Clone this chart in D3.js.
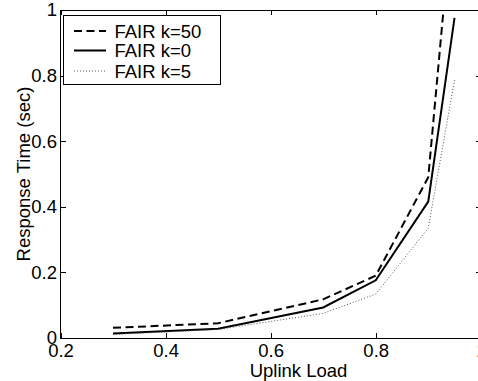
<!DOCTYPE html>
<html>
<head>
<meta charset="utf-8">
<script src="https://cdn.jsdelivr.net/npm/d3@7"></script>
<style>
  html, body { margin: 0; padding: 0; background: #fff; }
  svg { display: block; font-family: "Liberation Sans", Arial, Helvetica, sans-serif; }
</style>
</head>
<body>
<svg id="chart" width="478" height="381"></svg>
<script>
// Uplink load sample points
const loads = [0.3, 0.5, 0.7, 0.8, 0.9, 0.95];
// Mean response time (sec) for each FAIR setting
const fairK50 = [0.031, 0.045, 0.118, 0.19, 0.49, 1.37];
const fairK0  = [0.014, 0.028, 0.093, 0.176, 0.416, 0.976];
const fairK5  = [0.011, 0.026, 0.075, 0.134, 0.335, 0.787];

const seriesNames = ["FAIR k=50", "FAIR k=0", "FAIR k=5"];
const seriesValues = [fairK50, fairK0, fairK5];
const seriesStyles = [
  { stroke: "#000", width: 2, dash: "8 4.5" },
  { stroke: "#000", width: 2, dash: null },
  { stroke: "#555", width: 1, dash: "1 2" }
];

const xTicks = [0.2, 0.4, 0.6, 0.8, 1.0];
const yTicks = [0, 0.2, 0.4, 0.6, 0.8, 1.0];

const svg = d3.select("#chart");
const plotL = 60.5, plotR = 480.8, plotT = 10, plotB = 338;

const x = d3.scaleLinear().domain([0.2, 1.0]).range([plotL, plotR]);
const y = d3.scaleLinear().domain([0, 1.0]).range([plotB, plotT]);
const fmt = d => d3.format("~g")(d);

// clip region for the data lines
svg.append("defs").append("clipPath").attr("id", "plotClip")
  .append("rect").attr("x", plotL).attr("y", plotT)
  .attr("width", plotR - plotL).attr("height", plotB - plotT);

const fontSize = 18.5;

// bottom axis with inward ticks
const gx = svg.append("g").attr("transform", `translate(0,${plotB})`)
  .call(d3.axisBottom(x).tickValues(xTicks).tickFormat(fmt)
    .tickSizeInner(-5).tickSizeOuter(0).tickPadding(5.5));
// top axis ticks only
const gxt = svg.append("g").attr("transform", `translate(0,${plotT})`)
  .call(d3.axisTop(x).tickValues(xTicks).tickFormat("")
    .tickSizeInner(-5).tickSizeOuter(0));
// left axis
const gy = svg.append("g").attr("transform", `translate(${plotL},0)`)
  .call(d3.axisLeft(y).tickValues(yTicks).tickFormat(fmt)
    .tickSizeInner(-5).tickSizeOuter(0).tickPadding(3.5));
// right axis ticks only
const gyr = svg.append("g").attr("transform", `translate(${plotR},0)`)
  .call(d3.axisRight(y).tickValues(yTicks).tickFormat("")
    .tickSizeInner(-5).tickSizeOuter(0));

[gx, gxt, gy, gyr].forEach(g => {
  g.select(".domain").remove();
  g.selectAll(".tick line").attr("stroke", "#000").attr("shape-rendering", "crispEdges");
  g.selectAll(".tick text").attr("fill", "#000")
    .style("font-size", fontSize + "px")
    .style("font-family", "'Liberation Sans', Arial, sans-serif");
  g.attr("font-family", null).attr("font-size", null);
});

// frame
svg.append("rect")
  .attr("x", plotL).attr("y", plotT)
  .attr("width", plotR - plotL).attr("height", plotB - plotT)
  .attr("fill", "none").attr("stroke", "#000").attr("stroke-width", 1)
  .attr("shape-rendering", "crispEdges");

// data lines
const line = d3.line().x((d, i) => x(loads[i])).y(d => y(d));
const linesG = svg.append("g").attr("clip-path", "url(#plotClip)");
seriesValues.forEach((vals, i) => {
  const s = seriesStyles[i];
  linesG.append("path")
    .datum(vals)
    .attr("d", line)
    .attr("fill", "none")
    .attr("stroke", s.stroke)
    .attr("stroke-width", s.width)
    .attr("stroke-dasharray", s.dash)
    .attr("stroke-linejoin", "miter");
});

// axis titles
svg.append("text")
  .attr("x", 298.5).attr("y", 376.5)
  .attr("text-anchor", "middle")
  .style("font-size", fontSize + "px")
  .text("Uplink Load");

svg.append("text")
  .attr("transform", `translate(29.5,${(plotT + plotB) / 2}) rotate(-90)`)
  .attr("text-anchor", "middle")
  .style("font-size", fontSize + "px")
  .text("Response Time (sec)");

// legend
const legend = svg.append("g");
legend.append("rect")
  .attr("x", 63.5).attr("y", 15.5).attr("width", 156.5).attr("height", 68.5)
  .attr("fill", "#fff").attr("stroke", "#000").attr("stroke-width", 1)
  .attr("shape-rendering", "crispEdges");
const rowY = [31, 50.5, 71];
seriesNames.forEach((name, i) => {
  const s = seriesStyles[i];
  legend.append("line")
    .attr("x1", 74).attr("x2", 106)
    .attr("y1", rowY[i]).attr("y2", rowY[i])
    .attr("stroke", s.stroke).attr("stroke-width", s.width)
    .attr("stroke-dasharray", s.dash);
  legend.append("text")
    .attr("x", 114.5).attr("y", rowY[i] + 6.5)
    .style("font-size", fontSize + "px")
    .text(name);
});
</script>
</body>
</html>
